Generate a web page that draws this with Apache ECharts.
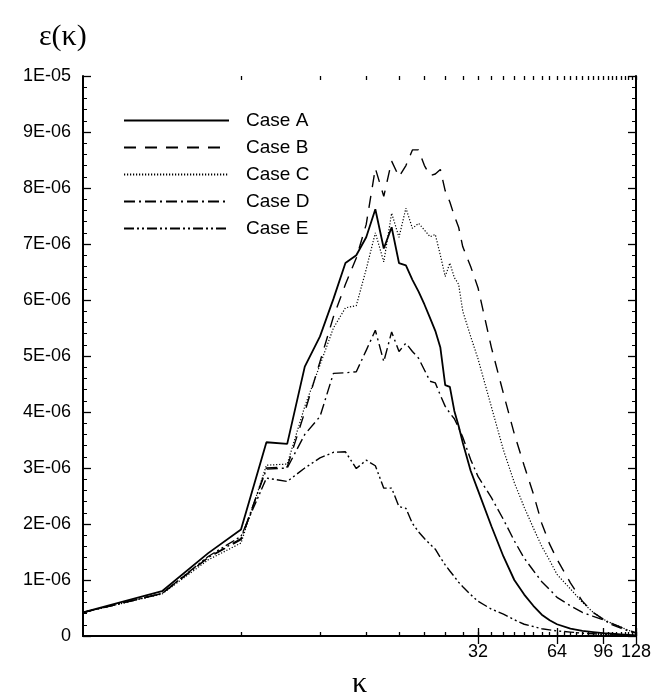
<!DOCTYPE html>
<html>
<head>
<meta charset="utf-8">
<script src="https://cdn.jsdelivr.net/npm/echarts@6/dist/echarts.min.js"></script>
<style>
html,body{margin:0;padding:0;background:#fff;}
#c{width:654px;height:700px;}
</style>
</head>
<body>
<div id="c"></div>
<script>
// wavenumber kappa
const kappa = [1,2,3,4,5,6,7,8,9,10,11,12,13,14,15,16,17,18,19,20,21,22,23,24,25,26,27,28,30,32,36,40,44,48,52,56,60,64,72,80,88,96,104,112,120,128];
// epsilon(kappa), in units of 1E-06
const caseA = [0.42,0.80,1.48,1.90,3.46,3.43,4.81,5.35,6.02,6.66,6.80,7.12,7.62,6.92,7.30,6.66,6.62,6.36,6.15,5.92,5.68,5.45,5.15,4.48,4.45,4.02,3.75,3.45,2.95,2.60,1.96,1.42,1.00,0.74,0.54,0.38,0.28,0.21,0.13,0.09,0.07,0.05,0.04,0.03,0.02,0.01];
const caseB = [0.42,0.76,1.40,1.72,3.00,3.02,4.00,4.90,5.70,6.28,6.75,7.35,8.35,7.85,8.48,8.20,8.40,8.68,8.68,8.40,8.22,8.25,8.33,7.95,7.75,7.50,7.30,6.95,6.60,6.22,5.15,4.33,3.61,3.04,2.54,2.01,1.64,1.37,0.95,0.62,0.42,0.30,0.22,0.16,0.10,0.06];
const caseC = [0.42,0.75,1.36,1.66,3.05,3.07,4.10,4.84,5.50,5.86,5.90,6.55,7.20,6.68,7.55,7.12,7.64,7.28,7.37,7.25,7.13,7.17,6.80,6.42,6.66,6.40,6.28,5.80,5.35,4.95,4.09,3.32,2.74,2.30,1.93,1.60,1.35,1.10,0.84,0.60,0.42,0.30,0.22,0.16,0.10,0.06];
const caseD = [0.42,0.76,1.40,1.74,2.98,3.00,3.60,3.92,4.69,4.70,4.72,5.10,5.46,4.90,5.43,5.08,5.23,5.08,4.96,4.75,4.55,4.52,4.30,4.10,3.98,3.88,3.72,3.55,3.15,2.85,2.47,2.08,1.70,1.39,1.17,0.97,0.83,0.69,0.54,0.42,0.35,0.29,0.20,0.14,0.09,0.05];
const caseE = [0.42,0.76,1.42,1.78,2.82,2.76,3.00,3.18,3.28,3.29,2.99,3.14,3.04,2.64,2.64,2.31,2.28,2.01,1.86,1.74,1.64,1.55,1.40,1.27,1.16,1.06,0.96,0.88,0.74,0.62,0.48,0.39,0.29,0.21,0.17,0.13,0.11,0.09,0.07,0.05,0.04,0.03,0.02,0.02,0.01,0.01];

const caseNames = ['Case A','Case B','Case C','Case D','Case E'];
const xLabels = [32,64,96,128];
const xMinorTicks = [4,8,12,16,20,24,28,32,36,40,44,48,52,56,60,64,68,72,76,80,84,88,92,96,100,104,108,112,116,120,124,128];
const yLabels = ['0','1E-06','2E-06','3E-06','4E-06','5E-06','6E-06','7E-06','8E-06','9E-06','1E-05'];

const lineTypes = [
  {width:1.8, type:'solid'},
  {width:1.4, type:[12,9]},
  {width:1.2, type:[1.2,1.8]},
  {width:1.4, type:[11,4,2,4]},
  {width:1.4, type:[10,3,2,3,2,3]}
];
const allCases = [caseA, caseB, caseC, caseD, caseE];

const sansFont = 'Liberation Sans, Arial, sans-serif';
const serifFont = 'Liberation Serif, DejaVu Serif, serif';

const gridBox = {left:83, right:18, top:76, bottom:64, outerBoundsMode: 'none', containLabel: false};

function xAx(grid, pos, major) {
  return {
    gridIndex: grid, type: 'log', logBase: 2, min: 1, max: 128, position: pos,
    axisLine: {show: major, lineStyle: {color: '#000', width: 2}},
    axisTick: {show: true, inside: true, length: major ? 8 : 4,
               customValues: major ? xLabels : xMinorTicks,
               lineStyle: {color: '#000', width: 1.3}},
    axisLabel: (major && pos === 'bottom') ? {show: true, customValues: xLabels, color: '#000',
               fontSize: 18, fontFamily: sansFont, margin: 7} : {show: false},
    splitLine: {show: false}, minorTick: {show: false}, minorSplitLine: {show: false},
    name: (major && pos === 'bottom') ? 'κ' : '',
    nameLocation: 'middle', nameGap: 33,
    nameTextStyle: {fontFamily: serifFont, fontSize: 30, color: '#000'}
  };
}
function yAx(grid, pos, show) {
  return {
    gridIndex: grid, type: 'value', min: 0, max: 10, interval: 1, position: pos, show: show,
    axisLine: {show: true, lineStyle: {color: '#000', width: 2}},
    axisTick: {show: true, inside: true, length: 8, lineStyle: {color: '#000', width: 1.3}},
    minorTick: {show: true, splitNumber: 5, length: 4, lineStyle: {color: '#000', width: 1}},
    axisLabel: pos === 'left' ? {show: true, color: '#000', fontSize: 18, fontFamily: sansFont, margin: 12,
               formatter: v => yLabels[Math.round(v)]} : {show: false},
    splitLine: {show: false}
  };
}

const chart = echarts.init(document.getElementById('c'), null, {renderer: 'canvas'});
chart.setOption({
  animation: false,
  backgroundColor: '#fff',
  title: {text: 'ε(κ)', left: 34, top: 17,
          textStyle: {fontFamily: serifFont, fontSize: 30, fontWeight: 'normal', color: '#000'}},
  legend: {
    data: caseNames, orient: 'vertical', left: 123, top: 110, padding: 0,
    itemWidth: 105, itemHeight: 12, itemGap: 6,
    itemStyle: {opacity: 0},
    textStyle: {fontSize: 19, lineHeight: 21, fontFamily: sansFont, color: '#000', padding: [0,0,0,12]},
    inactiveColor: '#000'
  },
  grid: [Object.assign({}, gridBox), Object.assign({}, gridBox)],
  xAxis: [xAx(0,'bottom',true), xAx(0,'top',true), xAx(1,'bottom',false), xAx(1,'top',false)],
  yAxis: [yAx(0,'left',true), yAx(0,'right',true), {gridIndex:1, type:'value', min:0, max:10, show:false}],
  series: allCases.map((vals, i) => ({
    name: caseNames[i], type: 'line', xAxisIndex: 0, yAxisIndex: 0,
    symbol: 'none', showSymbol: false, smooth: false,
    data: kappa.map((k, j) => [k, vals[j]]),
    lineStyle: {color: '#000', width: lineTypes[i].width, type: lineTypes[i].type},
    itemStyle: {color: '#000'}
  }))
});
</script>
</body>
</html>
